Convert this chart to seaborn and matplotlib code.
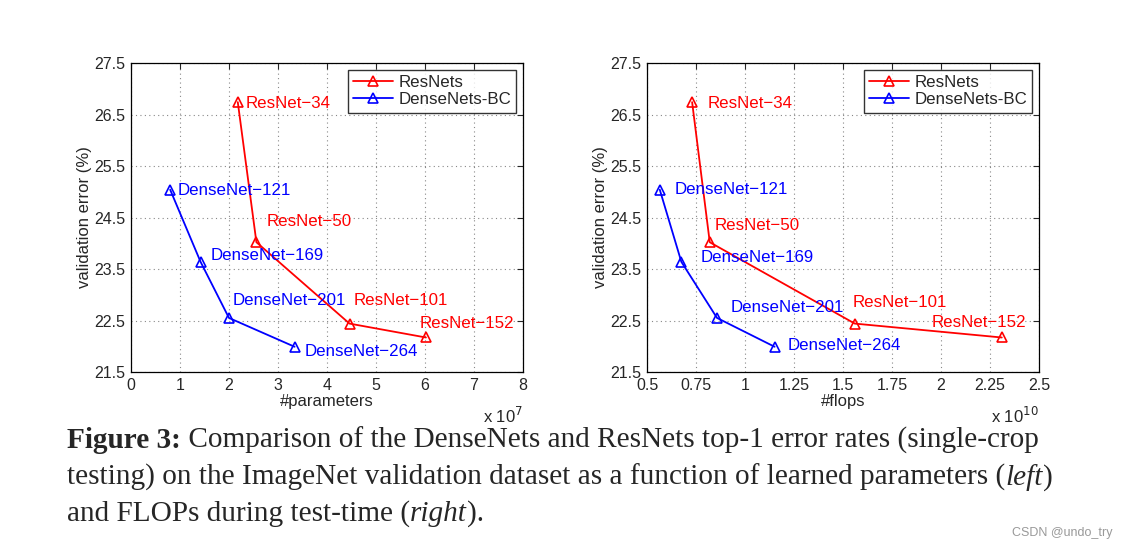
import numpy as np
import pandas as pd
import matplotlib
matplotlib.use("Agg")
import matplotlib.pyplot as plt
import seaborn as sns

# data (x in units of 1e7 params / 1e10 flops)
resnet_names = ["ResNet-34", "ResNet-50", "ResNet-101", "ResNet-152"]
resnet_params = [2.18, 2.56, 4.46, 6.02]
resnet_flops = [0.73, 0.82, 1.56, 2.31]
resnet_err = [26.74, 24.02, 22.44, 22.17]

dense_names = ["DenseNet-121", "DenseNet-169", "DenseNet-201", "DenseNet-264"]
dense_params = [0.80, 1.42, 2.00, 3.34]
dense_flops = [0.565, 0.675, 0.857, 1.151]
dense_err = [25.04, 23.64, 22.55, 21.99]

# label anchor (left edge, vertical centre) in data coords
lab_params = [(2.33, 26.72), (2.77, 24.43), (4.55, 22.89), (5.90, 22.45),
              (0.95, 25.03), (1.63, 23.77), (2.07, 22.89), (3.54, 21.89)]
lab_flops = [(0.811, 26.72), (0.845, 24.35), (1.551, 22.85), (1.954, 22.47),
             (0.641, 25.05), (0.772, 23.72), (0.925, 22.75), (1.219, 22.02)]

sns.set_style("white")
plt.rcParams["font.family"] = ["Liberation Sans", "DejaVu Sans"]

fig = plt.figure(figsize=(11.3, 5.49), dpi=100)
ax1 = fig.add_axes([0.1159, 0.3224, 0.3469, 0.5628])
ax2 = fig.add_axes([0.5726, 0.3224, 0.3469, 0.5628])


def draw(ax, xr, xd, labs, xlim, xticks, xticklabels, xlabel, expo):
    df_r = pd.DataFrame({"x": xr, "err": resnet_err})
    df_d = pd.DataFrame({"x": xd, "err": dense_err})
    sns.lineplot(data=df_r, x="x", y="err", sort=False, color="red", marker="^",
                 markersize=7.5, markerfacecolor="none", markeredgecolor="red",
                 markeredgewidth=1.2, linewidth=1.3, label="ResNets", ax=ax)
    sns.lineplot(data=df_d, x="x", y="err", sort=False, color="blue", marker="^",
                 markersize=7.5, markerfacecolor="none", markeredgecolor="blue",
                 markeredgewidth=1.2, linewidth=1.3, label="DenseNets-BC", ax=ax)
    names = resnet_names + dense_names
    for i, (nm, (lx, ly)) in enumerate(zip(names, labs)):
        ax.text(lx, ly, nm.replace("-", "\u2212"), color="red" if i < 4 else "blue",
                fontsize=12.2, ha="left", va="center")
    ax.set_xlim(*xlim)
    ax.set_ylim(21.5, 27.5)
    ax.set_xticks(xticks)
    ax.set_xticklabels(xticklabels)
    ax.set_yticks(np.arange(21.5, 27.6, 1.0))
    ax.set_yticklabels(["21.5", "22.5", "23.5", "24.5", "25.5", "26.5", "27.5"])
    ax.grid(True, linestyle=(0, (1, 3)), color="#888888", linewidth=0.8)
    ax.tick_params(direction="in", top=True, right=True, labelsize=11.5,
                   length=4, width=0.8, pad=4)
    for s in ax.spines.values():
        s.set_color("black")
        s.set_linewidth(0.9)
    ax.set_xlabel(xlabel, fontsize=12, labelpad=1)
    ax.set_ylabel("validation error (%)", fontsize=12, labelpad=2)
    ax.text(1.0, -0.11, "x 10$^{%d}$" % expo, transform=ax.transAxes,
            ha="right", va="top", fontsize=12)
    leg = ax.legend(loc="upper right", fontsize=12.2, frameon=True, fancybox=False,
                    borderpad=0.3, labelspacing=0.15, handlelength=2.4,
                    handletextpad=0.3, borderaxespad=0.4)
    leg.get_frame().set_edgecolor("black")
    leg.get_frame().set_linewidth(1.0)


draw(ax1, resnet_params, dense_params, lab_params, (0, 8), range(9),
     [str(i) for i in range(9)], "#parameters", 7)
fl_ticks = np.arange(0.5, 2.51, 0.25)
draw(ax2, resnet_flops, dense_flops, lab_flops, (0.5, 2.5), fl_ticks,
     ["0.5", "0.75", "1", "1.25", "1.5", "1.75", "2", "2.25", "2.5"], "#flops", 10)

# caption, written as runs of differently styled text
caption_lines = [
    [("Figure 3:", "bold", "normal"),
     (" Comparison of the DenseNets and ResNets top-1 error rates (single-crop", "normal", "normal")],
    [("testing) on the ImageNet validation dataset as a function of learned parameters (", "normal", "normal"),
     ("left", "normal", "italic"), (")", "normal", "normal")],
    [("and FLOPs during test-time (", "normal", "normal"), ("right", "normal", "italic"),
     (").", "normal", "normal")],
]
baselines = [448, 485, 521]
renderer = fig.canvas.get_renderer()
for runs, yb in zip(caption_lines, baselines):
    x = 67
    for txt, wt, st in runs:
        t = fig.text(x / 1130, 1 - yb / 549, txt, fontsize=21.1, family="Liberation Serif",
                     weight=wt, style=st, ha="left", va="baseline")
        bb = t.get_window_extent(renderer)
        x += bb.width

fig.text(1113 / 1130, 1 - 533 / 549, "CSDN @undo_try", fontsize=9, color="#999999",
         ha="right", va="center")

fig.savefig("out.png", dpi=100, facecolor="white")
